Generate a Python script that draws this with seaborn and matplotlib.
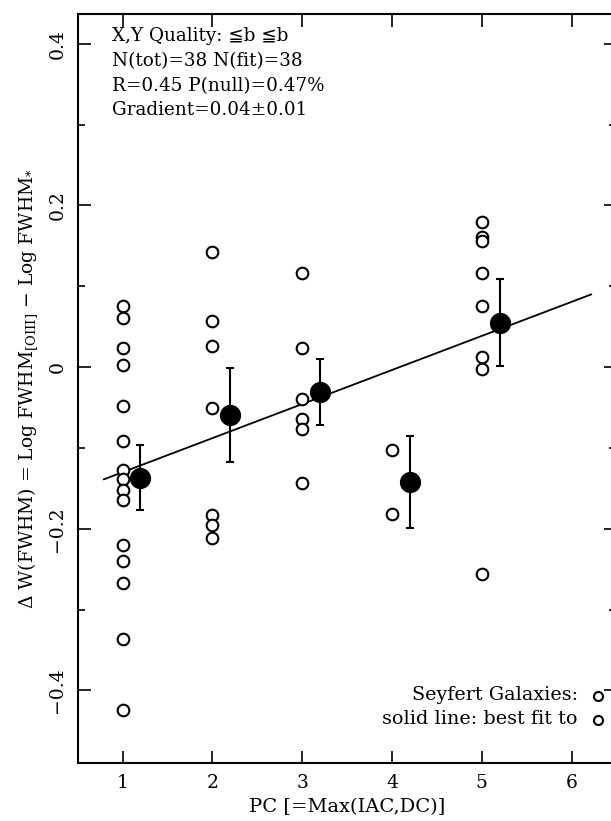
import matplotlib
matplotlib.use("Agg")
import matplotlib.pyplot as plt
import seaborn as sns
import pandas as pd
import numpy as np

# ---- data ----
pc_1 = [0.076, 0.061, 0.023, 0.002, -0.048, -0.091, -0.127, -0.139, -0.152, -0.165,
        -0.220, -0.240, -0.267, -0.336, -0.424]
pc_2 = [0.143, 0.057, 0.026, -0.051, -0.183, -0.196, -0.211]
pc_3 = [0.117, 0.023, -0.039, -0.064, -0.077, -0.144]
pc_4 = [-0.102, -0.182]
pc_5 = [0.179, 0.161, 0.156, 0.116, 0.075, 0.012, -0.002, -0.256]

mean_x = [1.2, 2.2, 3.2, 4.2, 5.2]
mean_y = [-0.137, -0.059, -0.031, -0.142, 0.055]
mean_err = [0.040, 0.058, 0.041, 0.057, 0.054]

fit_x = [0.79, 6.22]
fit_y = [-0.139, 0.090]

info_lines = ["X,Y Quality: \u2266b \u2266b", "N(tot)=38 N(fit)=38",
              "R=0.45 P(null)=0.47%", "Gradient=0.04\u00b10.01"]
x_ticks = [1, 2, 3, 4, 5, 6]
y_ticks = [-0.4, -0.2, 0, 0.2, 0.4]
y_ticklabels = ["\u22120.4", "\u22120.2", "0", "0.2", "0.4"]

# ---- build tables ----
groups = [(1, pc_1), (2, pc_2), (3, pc_3), (4, pc_4), (5, pc_5)]
pts = pd.DataFrame({"pc": [g for g, v in groups for _ in v],
                    "dw": [y for g, v in groups for y in v]})
means = pd.DataFrame({"pc": mean_x, "dw": mean_y, "err": mean_err})
fit = pd.DataFrame({"pc": fit_x, "dw": fit_y})

sns.set_theme(style="ticks")
plt.rcParams["font.family"] = ["DejaVu Serif", "DejaVu Sans"]
plt.rcParams["mathtext.fontset"] = "dejavuserif"
for k in ["text.color", "axes.labelcolor", "xtick.color", "ytick.color", "axes.edgecolor"]:
    plt.rcParams[k] = "black"

fig = plt.figure(figsize=(6.11, 8.21), dpi=100)
ax = fig.add_axes([0.127, 0.0706, 0.882, 0.9124])

sns.lineplot(data=fit, x="pc", y="dw", ax=ax, color="black", lw=1.3)
sns.scatterplot(data=pts, x="pc", y="dw", ax=ax, s=70, facecolor="white",
                edgecolor="black", linewidth=1.5, zorder=3)
ax.errorbar(means["pc"], means["dw"], yerr=means["err"], fmt="none",
            ecolor="black", elinewidth=1.5, capsize=3, capthick=1.5, zorder=4)
sns.scatterplot(data=means, x="pc", y="dw", ax=ax, s=200, color="black",
                edgecolor="black", zorder=5)

ax.set_xlim(0.5, 6.5)
ax.set_ylim(-0.49, 0.437)
ax.set_xticks(x_ticks)
ax.set_xticklabels([str(t) for t in x_ticks], fontsize=13.5)
ax.set_yticks(y_ticks)
ax.set_yticklabels(y_ticklabels, fontsize=13.5, rotation=90, va="center")
ax.set_yticks(np.arange(-0.4, 0.45, 0.1), minor=True)
ax.tick_params(axis="both", which="major", direction="in", length=9, width=1.2,
               top=True, right=True, colors="black", pad=8)
ax.tick_params(axis="y", which="minor", direction="in", length=5, width=1.2,
               right=True)
for s in ax.spines.values():
    s.set_linewidth(1.5)
    s.set_color("black")

ax.set_xlabel("PC [=Max(IAC,DC)]", fontsize=14, labelpad=4)
ax.set_ylabel(r"$\Delta$ W(FWHM) = Log FWHM$_{\rm [OIII]}$ $-$ Log FWHM$_{*}$",
              fontsize=13.5, labelpad=6)

for i, line in enumerate(info_lines):
    ax.text(0.063, 0.982 - i * 0.0328, line, transform=ax.transAxes,
            fontsize=13.2, va="top", ha="left")

ax.text(0.928, 0.091, "Seyfert Galaxies:", transform=ax.transAxes,
        fontsize=13.8, ha="right", va="center")
ax.text(0.928, 0.059, "solid line: best fit to", transform=ax.transAxes,
        fontsize=13.8, ha="right", va="center")
ax.plot([0.965, 0.965], [0.089, 0.057], transform=ax.transAxes, ls="none",
        marker="o", ms=6.5, mfc="white", mec="black", mew=1.5, clip_on=False)

fig.savefig("out.png", dpi=100)
